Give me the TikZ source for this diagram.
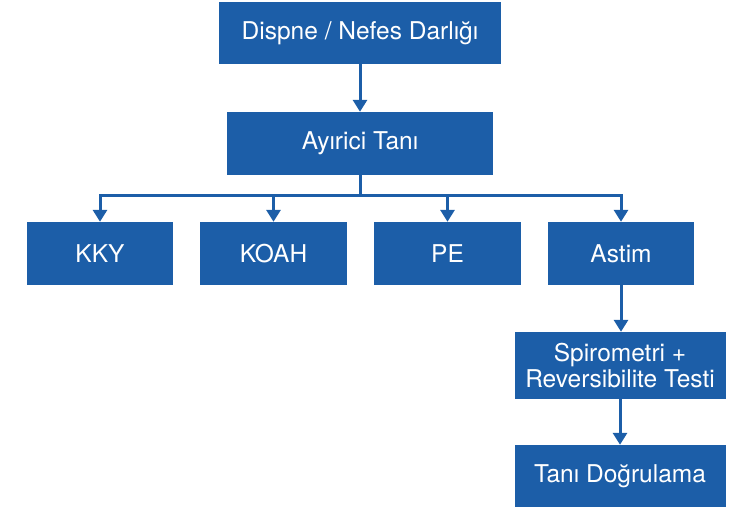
\documentclass[tikz,border=0pt]{standalone}
\usepackage{fontspec}
\setmainfont{TeX Gyre Heros}
\usetikzlibrary{arrows.meta}
\definecolor{boxblue}{RGB}{28,94,168}
\tikzset{
  box/.style={shape=rectangle,fill=boxblue,text=white,inner sep=0pt,align=center,
    font=\fontsize{24.5}{26}\selectfont},
  link/.style={draw=boxblue,line width=3pt},
  arrowlink/.style={link,-{Triangle[width=14pt,length=12pt]}},
}
\begin{document}
\begin{tikzpicture}[x=1pt,y=-1pt]
    \useasboundingbox (0,0) rectangle (738,509);
    \node [box,minimum width=282,minimum height=62] (dispne) at (360,33) {Dispne / Nefes Darlığı};
    \node [box,minimum width=266,minimum height=63] (ayirici) at (360,143.5) {Ayırici Tanı};
    \node [box,minimum width=146,minimum height=63] (kky) at (100,253.5) {KKY};
    \node [box,minimum width=147,minimum height=63] (koah) at (273.5,253.5) {KOAH};
    \node [box,minimum width=147,minimum height=63] (pe) at (447.5,253.5) {PE};
    \node [box,minimum width=146,minimum height=63] (astim) at (621,253.5) {Astim};
    \node [box,minimum width=211,minimum height=67] (spiro) at (620,365.5) {Spirometri +\\Reversibilite Testi};
    \node [box,minimum width=211,minimum height=62] (tani) at (620,476) {Tanı Doğrulama};
    \coordinate (split) at (360,195);
    \draw [arrowlink] (dispne.south) -- (ayirici.north);
    \draw [link] (ayirici.south) -- (split);
    \draw [arrowlink] (split) -| (kky.north);
    \draw [arrowlink] (split) -| (koah.north);
    \draw [arrowlink] (split) -| (pe.north);
    \draw [arrowlink] (split) -| (astim.north);
    \draw [arrowlink] (astim.south) -- (astim.south |- spiro.north);
    \draw [arrowlink] (spiro.south) -- (tani.north);
\end{tikzpicture}
\end{document}
